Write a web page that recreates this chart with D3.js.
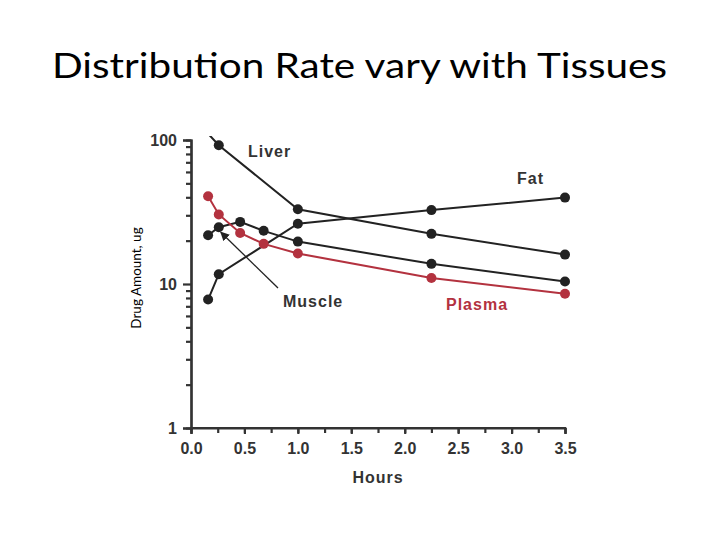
<!DOCTYPE html>
<html>
<head>
<meta charset="utf-8">
<script src="https://cdn.jsdelivr.net/npm/d3@7"></script>
<style>
  body { margin: 0; background: #fff; }
  svg { display: block; }
</style>
</head>
<body>
<svg></svg>
<script>
const size = {w: 720, h: 540};
const margin = {t: 140, r: 155, b: 112, l: 191};

// hours sampled
const hours = [0.16, 0.26, 0.46, 0.68, 1.0, 2.25, 3.5];
const liverHours = [0.125, 0.26, 1.0, 2.25, 3.5];
const fatHours = [0.16, 0.26, 1.0, 2.25, 3.5];

// drug amount, ug
const liver = [118, 92, 33, 22.3, 16.0];
const fat = [7.8, 11.7, 26.2, 32.6, 39.8];
const muscle = [21.8, 24.8, 27.0, 23.4, 19.7, 13.8, 10.4];
const plasma = [40.7, 30.4, 22.6, 19.0, 16.3, 11.0, 8.55];

const xTicks = [0, 0.5, 1, 1.5, 2, 2.5, 3, 3.5];
const yTicks = [1, 10, 100];

const svg = d3.select('svg')
    .attr('width', size.w)
    .attr('height', size.h);

const x = d3.scaleLinear()
    .domain([0, 3.5])
    .range([margin.l, size.w - margin.r]);

const y = d3.scaleLog()
    .domain([1, 100])
    .range([size.h - margin.b, margin.t]);

const axisColor = '#333';
const red = '#b3323f';

// title
svg.append('text')
    .attr('x', 52)
    .attr('y', 78)
    .attr('textLength', 615)
    .attr('lengthAdjust', 'spacingAndGlyphs')
    .style('font-family', 'Lato, "Open Sans", sans-serif')
    .style('font-size', '35px')
    .text('Distribution Rate vary with Tissues');

// y label
svg.append('text')
    .attr('transform', 'translate(141,' + 278 + ') rotate(-90)')
    .attr('text-anchor', 'middle')
    .style('font-family', 'Lato, "Open Sans", sans-serif')
    .style('font-size', '13.5px')
    .text('Drug Amount, ug');

// axes
let xMinor = d3.range(0, 3.51, 0.25);
let yMinor = [];
[1, 10].forEach(d => { for (let i = 2; i <= 9; i++) yMinor.push(d * i); });

const xAxisG = svg.append('g')
    .attr('transform', 'translate(0,' + (size.h - margin.b) + ')');
xAxisG.call(d3.axisBottom(x).tickValues(xMinor).tickSize(5).tickFormat(''));
xAxisG.call(g => g.selectAll('.tick text').remove());
const xMajor = svg.append('g')
    .attr('transform', 'translate(0,' + (size.h - margin.b) + ')')
    .call(d3.axisBottom(x).tickValues(xTicks).tickSize(6).tickPadding(9).tickFormat(d3.format('.1f')));

const yAxisG = svg.append('g')
    .attr('transform', 'translate(' + margin.l + ',0)');
yAxisG.call(d3.axisLeft(y).tickValues(yMinor).tickSize(5).tickFormat(''));
const yMajor = svg.append('g')
    .attr('transform', 'translate(' + margin.l + ',0)')
    .call(d3.axisLeft(y).tickValues(yTicks).tickSize(8).tickPadding(6).tickFormat(d3.format('d')));

svg.selectAll('.domain, .tick line')
    .attr('stroke', axisColor)
    .attr('stroke-width', 2.2);
svg.selectAll('.tick text')
    .attr('fill', axisColor)
    .style('font-family', 'Arial, "Liberation Sans", sans-serif')
    .style('font-weight', 'bold')
    .style('font-size', '16px');
xAxisG.select('.domain').attr('d', 'M' + (margin.l - 1) + ',0H' + (size.w - margin.r + 1));

// clip so the first liver point gets cut at top
svg.append('clipPath').attr('id', 'clip')
    .append('rect')
    .attr('x', margin.l)
    .attr('y', margin.t - 4)
    .attr('width', size.w - margin.l)
    .attr('height', size.h - margin.b - margin.t + 4);

const plot = svg.append('g').attr('clip-path', 'url(#clip)');

const series = [
    {name: 'Liver', xs: liverHours, ys: liver, color: '#222'},
    {name: 'Fat', xs: fatHours, ys: fat, color: '#222'},
    {name: 'Muscle', xs: hours, ys: muscle, color: '#222'},
    {name: 'Plasma', xs: hours, ys: plasma, color: red}
];

let line = d3.line()
    .x(d => x(d[0]))
    .y(d => y(d[1]));

series.forEach(function(s) {
    let pts = s.xs.map((h, i) => [h, s.ys[i]]);
    plot.append('path')
        .datum(pts)
        .attr('fill', 'none')
        .attr('stroke', s.color)
        .attr('stroke-width', 2)
        .attr('d', line);
    plot.selectAll(null)
        .data(pts)
        .join('circle')
        .attr('cx', d => x(d[0]))
        .attr('cy', d => y(d[1]))
        .attr('r', 5)
        .attr('fill', s.color);
});

// arrow from Muscle label
svg.append('defs').append('marker')
    .attr('id', 'arrow')
    .attr('viewBox', '0 0 10 10')
    .attr('refX', 9).attr('refY', 5)
    .attr('markerWidth', 7).attr('markerHeight', 7)
    .attr('orient', 'auto')
    .append('path')
    .attr('d', 'M0,0L10,5L0,10z')
    .attr('fill', '#222');

svg.append('line')
    .attr('x1', 278).attr('y1', 288)
    .attr('x2', x(0.26) + 2).attr('y2', y(24.8) + 5)
    .attr('stroke', '#222')
    .attr('stroke-width', 1.3)
    .attr('marker-end', 'url(#arrow)');

// series labels
const labels = [
    {text: 'Liver', x: 248, y: 157, color: axisColor},
    {text: 'Fat', x: 517, y: 184, color: axisColor},
    {text: 'Muscle', x: 283, y: 307, color: axisColor},
    {text: 'Plasma', x: 446, y: 310, color: red}
];
svg.selectAll('.lbl')
    .data(labels)
    .join('text')
    .attr('x', d => d.x)
    .attr('y', d => d.y)
    .attr('fill', d => d.color)
    .style('font-family', 'Arial, "Liberation Sans", sans-serif')
    .style('font-weight', 'bold')
    .style('font-size', '16px')
    .style('letter-spacing', '1px')
    .text(d => d.text);

// x label
svg.append('text')
    .attr('x', 378)
    .attr('y', 483)
    .attr('text-anchor', 'middle')
    .attr('fill', axisColor)
    .style('font-family', 'Arial, "Liberation Sans", sans-serif')
    .style('font-weight', 'bold')
    .style('font-size', '16px')
    .style('letter-spacing', '1px')
    .text('Hours');
</script>
</body>
</html>
